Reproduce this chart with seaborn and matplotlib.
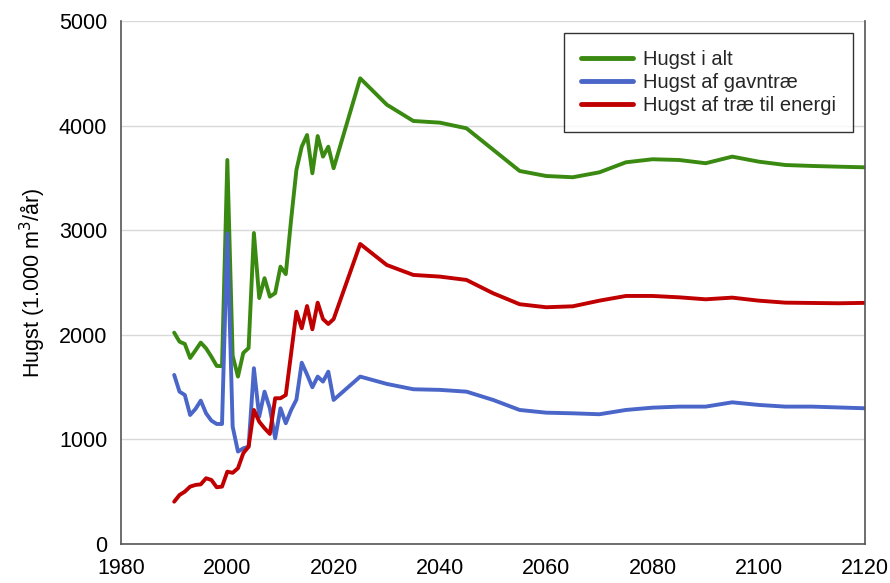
import pandas as pd
import matplotlib.pyplot as plt
import seaborn as sns

years = list(range(1990, 2021)) + list(range(2025, 2121, 5))

hugst_i_alt = [2020, 1934, 1912, 1778, 1850, 1925, 1870, 1790, 1702, 1700,
               3671, 1800, 1600, 1826, 1873, 2973, 2351, 2541, 2364, 2398,
               2651, 2580, 3100, 3576, 3798, 3910, 3544, 3900, 3703, 3798,
               3592,
               4452, 4200, 4044, 4028, 3974, 3770, 3566, 3518, 3506, 3553,
               3649, 3678, 3671, 3640, 3703, 3655, 3623, 3614, 3607, 3601]

hugst_gavntrae = [1616, 1456, 1424, 1233, 1290, 1370, 1249, 1179, 1147, 1147,
                  2970, 1122, 883, 914, 930, 1680, 1217, 1456, 1297, 1010,
                  1297, 1154, 1280, 1380, 1733, 1620, 1498, 1600, 1552, 1647,
                  1377,
                  1600, 1530, 1479, 1473, 1456, 1377, 1281, 1255, 1249, 1240,
                  1281, 1303, 1313, 1313, 1354, 1329, 1313, 1313, 1305, 1297]

hugst_energi = [404, 468, 500, 548, 564, 570, 628, 612, 542, 548,
                691, 680, 724, 867, 930, 1281, 1169, 1106, 1052, 1393,
                1393, 1424, 1820, 2221, 2062, 2275, 2052, 2307, 2150, 2103,
                2150,
                2868, 2667, 2572, 2556, 2524, 2397, 2292, 2263, 2272, 2326,
                2371, 2371, 2358, 2339, 2355, 2326, 2307, 2304, 2301, 2305]

labels = ["Hugst i alt", "Hugst af gavntræ", "Hugst af træ til energi"]
colors = ["#3a8a12", "#4a66c8", "#c00000"]

rows = []
for lab, vals in zip(labels, [hugst_i_alt, hugst_gavntrae, hugst_energi]):
    for y, v in zip(years, vals):
        rows.append({"year": y, "value": v, "serie": lab})
df = pd.DataFrame(rows)

sns.set_style("white")
plt.rcParams['font.family'] = ['Liberation Sans', 'DejaVu Sans']

fig = plt.figure(figsize=(8.9, 5.83), dpi=100)
ax = fig.add_axes([0.136, 0.067, 0.836, 0.897])

sns.lineplot(data=df, x="year", y="value", hue="serie", hue_order=labels,
             palette=colors, linewidth=2.8, ax=ax, estimator=None)

ax.set_xlim(1980, 2120)
ax.set_ylim(0, 5000)
ax.set_xticks(range(1980, 2121, 20))
ax.set_yticks(range(0, 5001, 1000))
ax.yaxis.grid(True, color="#d9d9d9", linewidth=1)
ax.set_axisbelow(True)
for side in ["left", "bottom", "right"]:
    ax.spines[side].set_color("#555555")
    ax.spines[side].set_linewidth(1.2)
ax.spines["top"].set_visible(False)
ax.tick_params(axis="both", direction="out", length=6, width=1, color="#555555",
               labelsize=15.5, labelcolor="black", pad=4)
ax.set_xlabel("")
ax.set_ylabel("Hugst (1.000 m$^3$/år)", fontsize=15.5, color="black", labelpad=8)

leg = ax.legend(loc="upper right", bbox_to_anchor=(0.984, 0.977), fontsize=14.5,
                frameon=True, fancybox=False, edgecolor="black", handlelength=2.6,
                borderpad=0.85, labelspacing=0.2, handletextpad=0.5, borderaxespad=0)
leg.get_frame().set_linewidth(1.0)
for line in leg.get_lines():
    line.set_linewidth(3.5)

fig.savefig("out.png", dpi=100)
